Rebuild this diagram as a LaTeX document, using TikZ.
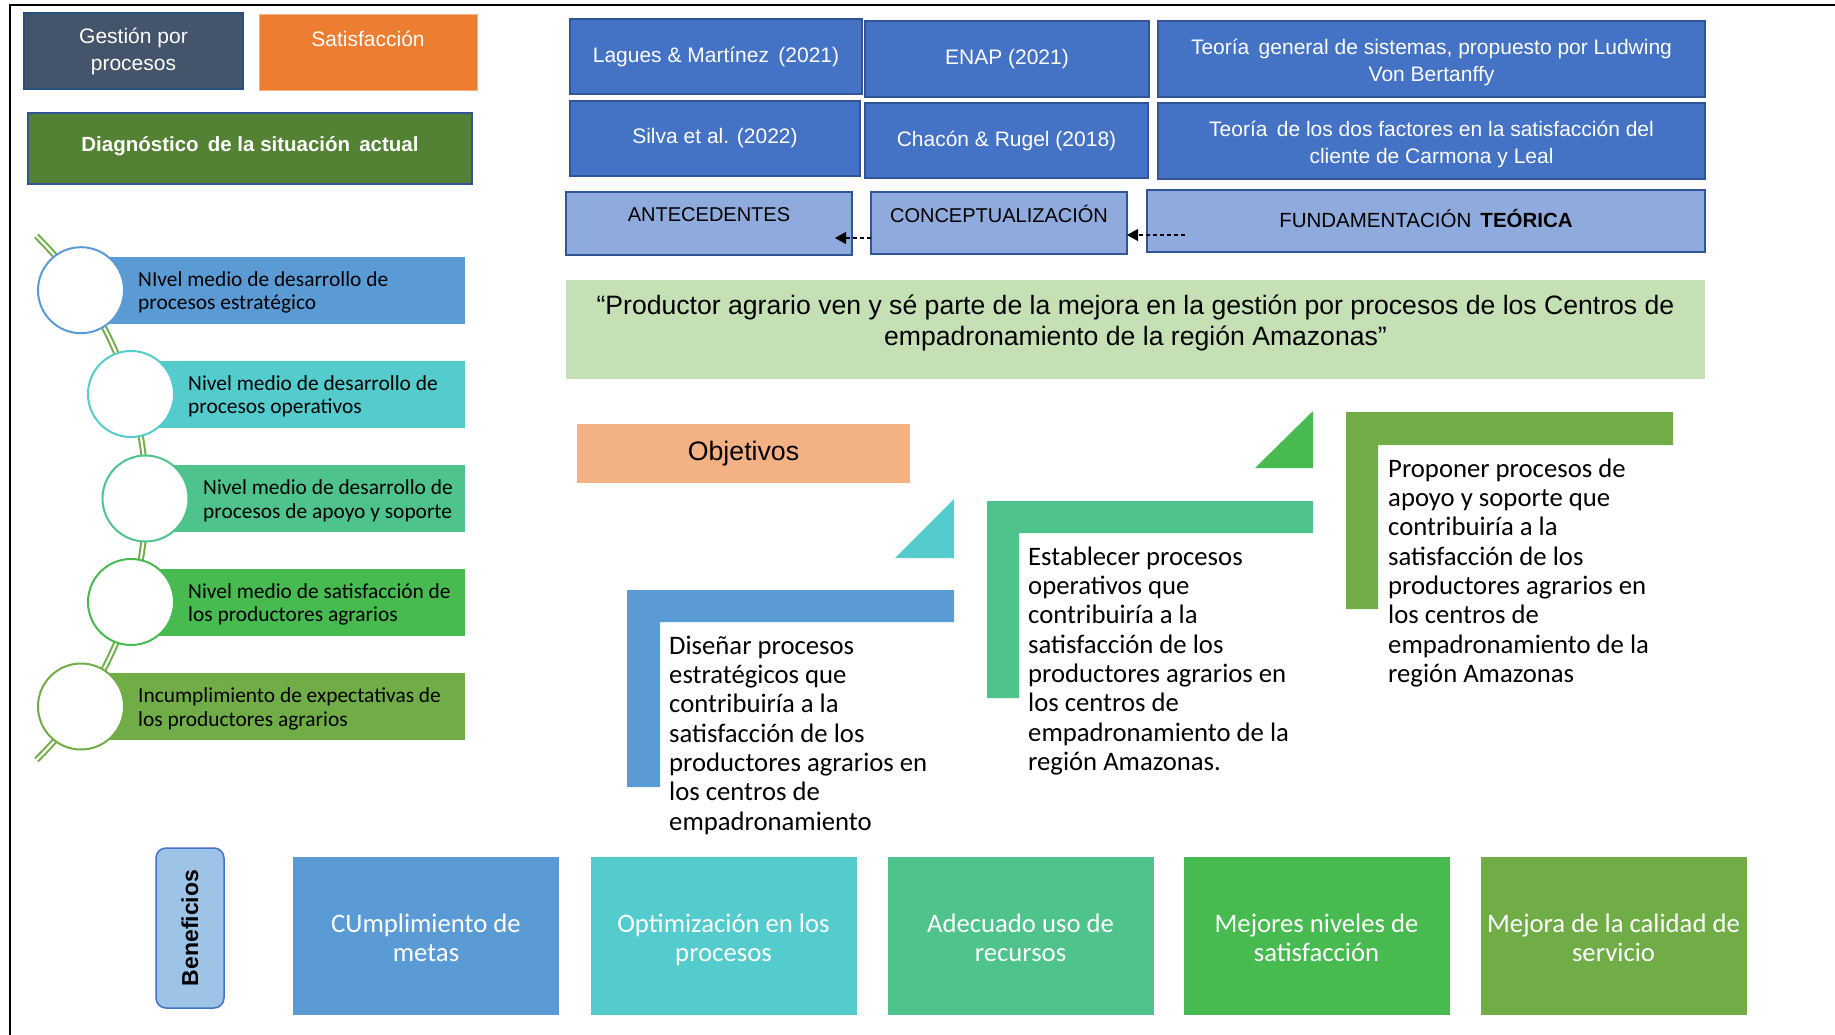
\documentclass[tikz,border=0pt]{standalone}
\usepackage{fontspec}
\setmainfont{Liberation Sans}
\newfontfamily\calfont{Carlito}
\usetikzlibrary{arrows.meta}
\definecolor{gestfill}{HTML}{44546A}
\definecolor{gestline}{HTML}{25507F}
\definecolor{satfill}{HTML}{ED7D31}
\definecolor{satline}{HTML}{F4B183}
\definecolor{diagfill}{HTML}{548235}
\definecolor{darkblue}{HTML}{2F5597}
\definecolor{midblue}{HTML}{4472C4}
\definecolor{lightblue}{HTML}{8FAADC}
\definecolor{bannerfill}{HTML}{C5E0B4}
\definecolor{objfill}{HTML}{F4B183}
\definecolor{cA}{HTML}{5B9BD5}
\definecolor{cB}{HTML}{54CBCC}
\definecolor{cC}{HTML}{4EC48C}
\definecolor{cD}{HTML}{47BA50}
\definecolor{cE}{HTML}{70AD47}
\definecolor{benfill}{HTML}{9DC3E6}
\newcommand\fsz[2]{\fontsize{#1}{#2}\selectfont}
\tikzset{
  box/.style={rectangle, inner sep=0pt, outer sep=0pt, align=center},
  topbox/.style={box, fill=midblue, draw=darkblue, line width=2.5pt, text=white, font=\fsz{21}{26}},
  toplbl/.style={align=center, text=white, font=\fsz{21}{26.5}, yshift=-3.6pt},
  lightbox/.style={box, fill=lightblue, draw=darkblue, line width=1.5pt, font=\fsz{20}{24}},
  bar/.style={rectangle, inner sep=0pt, outer sep=0pt, anchor=west, minimum height=67pt},
  ring/.style={circle, fill=white, line width=2pt, minimum size=86pt, inner sep=0pt},
  bartext/.style={anchor=west, align=left, inner sep=0pt, font=\calfont\fsz{21.4}{23.5}, yshift=-2.3pt},
  objtext/.style={anchor=north west, align=left, inner sep=0pt, font=\calfont\fsz{26.7}{29.3}},
  benbox/.style={box, minimum width=266pt, minimum height=158pt, text=white, font=\calfont\fsz{26.7}{29.3}},
  bentext/.style={align=center, text=white, font=\calfont\fsz{26.7}{29.3}, yshift=-5pt},
  dasharrow/.style={line width=1.2pt, dash pattern=on 4pt off 3pt, -{Triangle[length=11pt,width=12pt]}},
  chain/.style={draw=cE, line width=2pt, double=white, double distance=2.2pt}
}
\begin{document}
\begin{tikzpicture}[x=1pt,y=-1pt]
\useasboundingbox (0,0) rectangle (1835,1035);
\draw[line width=2pt] (10,1035) -- (10,5) -- (1835,5);

% left top boxes
\node[box, fill=gestfill, draw=gestline, line width=2pt, minimum width=219pt, minimum height=76pt, text=white, font=\fsz{21}{27}] (gest) at (133.5,51) {Gestión por\\procesos};
\node[box, fill=satfill, draw=satline, line width=1pt, minimum width=218pt, minimum height=76pt,
  label={[text=white, font=\fsz{21}{25}, yshift=14pt]center:Satisfacción}] (satis) at (368,53) {};
\node[box, fill=diagfill, draw=darkblue, line width=2pt, minimum width=444pt, minimum height=71pt,
  label={[text=white, font=\bfseries\fsz{20.5}{24}, yshift=2.3pt]center:{Diagnóstico\, de la situación\, actual}}] (diag) at (250,148.5) {};

% top right boxes
\node[topbox, minimum width=292pt, minimum height=75pt] (lag) at (716,56.5) {Lagues \& Martínez\, (2021)};
\node[topbox, minimum width=284pt, minimum height=76pt] (enap) at (1007,59) {ENAP (2021)};
\node[topbox, minimum width=547pt, minimum height=76pt,
  label={[toplbl]center:{Teoría\, general de sistemas, propuesto por Ludwing\\Von Bertanffy}}] (tgs) at (1431.5,59) {};
\node[topbox, minimum width=290pt, minimum height=75pt] (silva) at (715,138.5) {Silva et al. (2022)};
\node[topbox, minimum width=283pt, minimum height=75pt] (chacon) at (1006.5,140.5) {Chacón \& Rugel (2018)};
\node[topbox, minimum width=547pt, minimum height=76pt,
  label={[toplbl]center:{Teoría\, de los dos factores en la satisfacción del\\cliente de Carmona y Leal}}] (tdf) at (1431.5,141) {};

\node[lightbox, minimum width=286pt, minimum height=63pt, label={[font=\fsz{20}{24}, yshift=8.5pt]center:ANTECEDENTES}] (ant) at (709,223.5) {};
\node[lightbox, minimum width=256pt, minimum height=62pt, label={[font=\fsz{20}{24}, yshift=9pt]center:CONCEPTUALIZACIÓN}] (conc) at (999,223) {};
\node[lightbox, minimum width=558pt, minimum height=62pt, label={[font=\fsz{20.5}{24}, yshift=2pt]center:{FUNDAMENTACIÓN\, \textbf{TEÓRICA}}}] (fund) at (1426,221) {};

\draw[dasharrow] ([yshift=16pt]conc.south west) -- ([xshift=-17pt,yshift=17pt]ant.south east);
\draw[dasharrow] ([xshift=38pt,yshift=17pt]fund.south west) -- ([yshift=19pt]conc.south east);

% banner
\node[box, fill=bannerfill, minimum width=1139pt, minimum height=99pt,
  label={[align=center, font=\fsz{26.6}{30.5}, yshift=6.5pt]center:{“Productor agrario ven y sé parte de la mejora en la gestión por procesos de los Centros de\\empadronamiento de la región Amazonas”}}] (banner) at (1135.5,329.5) {};

% objetivos
\node[box, fill=objfill, minimum width=333pt, minimum height=59pt, font=\fsz{26.7}{30}] (obj) at (743.5,453.5) {Objetivos};

\fill[cB] (895,558) -- (954,499) -- (954,558) -- cycle;
\fill[cD] (1255,468) -- (1313,411) -- (1313,468) -- cycle;
\fill[cA] (627,590) -- (954,590) -- (954,622) -- (660,622) -- (660,787) -- (627,787) -- cycle;
\fill[cC] (987,501) -- (1313,501) -- (1313,533) -- (1019,533) -- (1019,698) -- (987,698) -- cycle;
\fill[cE] (1346,412) -- (1673,412) -- (1673,445) -- (1378,445) -- (1378,609) -- (1346,609) -- cycle;

\node[objtext] (o1) at (669,633.5) {\strut Diseñar procesos\\estratégicos que\\contribuiría a la\\satisfacción de los\\productores agrarios en\\los centros de\\empadronamiento};
\node[objtext] (o2) at (1028,544.6) {\strut Establecer procesos\\operativos que\\contribuiría a la\\satisfacción de los\\productores agrarios en\\los centros de\\empadronamiento de la\\región Amazonas.};
\node[objtext] (o3) at (1388,456.5) {\strut Proponer procesos de\\apoyo y soporte que\\contribuiría a la\\satisfacción de los\\productores agrarios en\\los centros de\\empadronamiento de la\\región Amazonas};

% left chain
\draw[chain] (-222,498) ++(-45.4:368) arc[start angle=-45.4, end angle=45.4, radius=368];
\node[bar, fill=cA, minimum width=384pt] (bar1) at (81,290.2) {};
\node[bar, fill=cB, minimum width=334pt] (bar2) at (131,394) {};
\node[bar, fill=cC, minimum width=319.5pt] (bar3) at (145.5,498.5) {};
\node[bar, fill=cD, minimum width=334pt] (bar4) at (131,602) {};
\node[bar, fill=cE, minimum width=384pt] (bar5) at (81,706.5) {};
\node[ring, draw=cA] (k1) at (81,290.2) {};
\node[ring, draw=cB] (k2) at (131,394) {};
\node[ring, draw=cC] (k3) at (145.5,498.5) {};
\node[ring, draw=cD] (k4) at (131,602) {};
\node[ring, draw=cE] (k5) at (81,706.5) {};
\node[bartext] (bt1) at (138,290.2) {NIvel medio de desarrollo de\\procesos estratégico};
\node[bartext] (bt2) at (188,394) {Nivel medio de desarrollo de\\procesos operativos};
\node[bartext] (bt3) at (203,498.5) {Nivel medio de desarrollo de\\procesos de apoyo y soporte};
\node[bartext] (bt4) at (188,602) {Nivel medio de satisfacción de\\los productores agrarios};
\node[bartext] (bt5) at (138,706.5) {Incumplimiento de expectativas de\\los productores agrarios};

% beneficios
\node[box, fill=benfill, draw=midblue, line width=1.5pt, rounded corners=10pt, minimum width=68pt, minimum height=160pt] (ben) at (190,928) {};
\node[rotate=90, font=\bfseries\fsz{23}{27}, inner sep=0pt] (bentxt) at (ben.center) {Beneficios};
\node[benbox, fill=cA, label={[bentext]center:{\strut CUmplimiento de\\metas\strut}}] (b1) at (426,936) {};
\node[benbox, fill=cB, label={[bentext]center:{\strut Optimización en los\\procesos\strut}}] (b2) at (723.5,936) {};
\node[benbox, fill=cC, label={[bentext]center:{\strut Adecuado uso de\\recursos\strut}}] (b3) at (1020.5,936) {};
\node[benbox, fill=cD, label={[bentext]center:{\strut Mejores niveles de\\satisfacción\strut}}] (b4) at (1316.5,936) {};
\node[benbox, fill=cE, label={[bentext]center:{\strut Mejora de la calidad de\\servicio\strut}}] (b5) at (1613.5,936) {};
\end{tikzpicture}
\end{document}
